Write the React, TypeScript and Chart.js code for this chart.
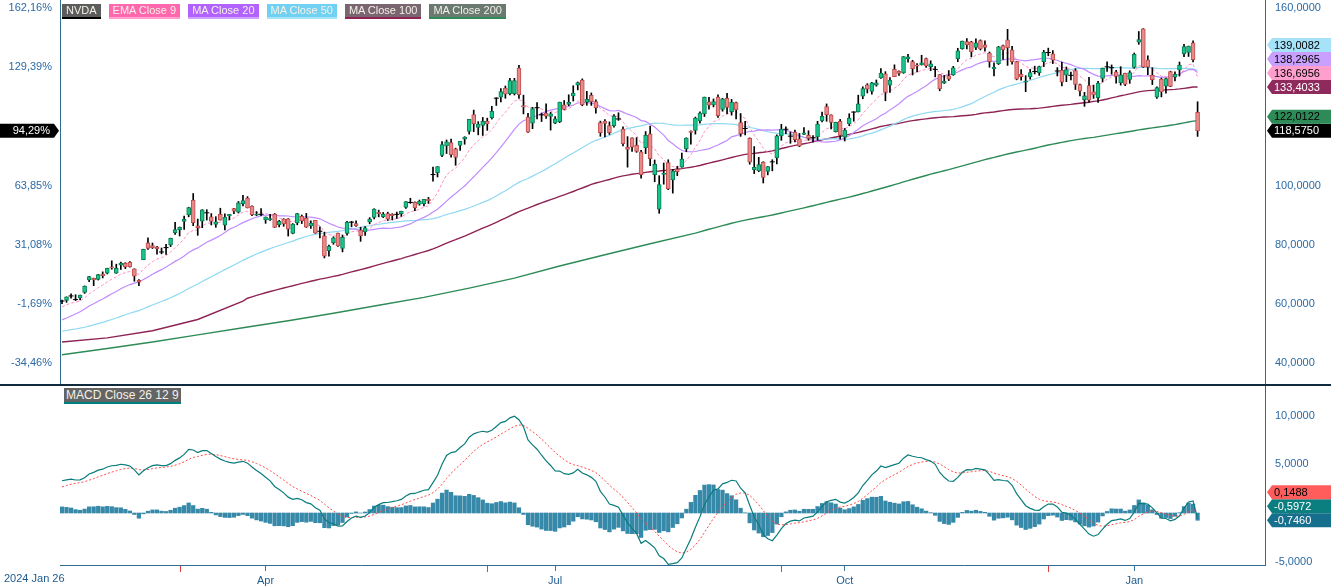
import React, { useEffect, useRef } from "react";
import { Chart, registerables } from "chart.js";

Chart.register(...registerables);

// ---------- data ----------
const startLabel = "2024 Jan 26";
const monthTickIdx = [45, 109, 173, 237];
const monthTickLabels = ["Apr", "Jul", "Oct", "Jan"];
const dividendIdx = [26, 94, 159, 218];
const priceTicks = [40, 60, 80, 100, 120, 140, 160];
const pctTicks = [40, 60, 80, 100, 140, 160];
const macdTicks = [-5, 0, 5, 10];

// last values printed in the right-hand tags
const mainTagNames = ["MA Close 50", "MA Close 20", "EMA Close 9", "MA Close 100", "MA Close 200", "NVDA"];
const mainTagValues = [139.0082, 138.2965, 136.6956, 133.4033, 122.0122, 118.575];
const macdTagNames = ["Signal", "MACD", "Histogram"];
const macdTagValues = [0.1488, -0.5972, -0.746];

// closes before the first visible candle (Nov 1 2023 - Jan 25 2024), used for the indicators
const warmupCloses = [
  42.33, 43.51, 45.01, 45.75, 45.96, 46.57, 46.95, 48.34, 48.62, 49.66,
  48.89, 49.48, 49.3, 50.41, 49.94, 48.72, 47.78, 48.24, 47.82, 48.14,
  46.77,
  46.77, 45.51, 46.57, 45.5, 46.6, 47.51, 46.63, 47.66, 48.09, 48.35,
  48.89, 50.08, 49.6, 48.11, 48.99, 48.83, 49.28, 49.42, 49.52, 49.52,
  48.17, 47.57, 48.0, 49.1, 52.25, 53.14, 54.35, 54.82, 54.71, 56.38,
  56.05, 57.11, 59.49, 59.65, 59.87, 61.36, 61.62,
];

const opens = [
  60.97, 61.22, 62.9, 61.4, 62.09, 63.97, 68.2, 68.73, 68.31, 70.15,
  70.5, 72.6, 70.5, 73.2, 73.8, 74.1, 71.9, 68.01, 75.02, 80.76,
  79.77, 79.36, 77.68, 79.01, 80.0, 84.18, 85.2, 88.0, 90.15, 95.14,
  86.47, 88.02, 91.02, 89.55, 86.94, 90.36, 86.7, 89.8, 92.31, 91.12,
  93.92, 95.84, 93.12, 90.03, 90.23, 88.44, 88.48, 90.43, 86.89, 88.74,
  88.82, 83.93, 87.45, 89.64, 89.07, 86.45, 88.3, 84.9, 83.1, 78.1,
  80.75, 83.98, 78.84, 83.87, 87.52, 87.21, 85.0, 84.45, 87.78, 89.35,
  91.03, 89.54, 90.62, 90.43, 90.4, 90.6, 92.69, 94.38, 94.4, 93.75,
  93.99, 95.48, 103.91, 104.45, 110.24, 113.51, 114.65, 112.52, 113.62, 115.72,
  118.37, 124.05, 119.77, 120.37, 121.77, 123.06, 129.39, 129.96, 132.99, 131.14,
  131.14, 139.8, 127.12, 123.24, 121.2, 126.13, 124.1, 124.58, 123.47, 121.13, 121.66,
  127.38, 127.49, 130.35, 134.03, 135.75, 128.26, 130.56, 128.44, 121.35, 121.85,
  120.35, 120.35, 122.78, 119.17, 113.04, 116.19, 113.69, 111.52, 112.9, 117.53,
  103.76, 92.06, 103.84, 107.81, 102.0, 105.64, 106.32, 112.44, 118.53, 118.76,
  121.94, 124.28, 128.4, 127.32, 130.02, 125.86, 129.57, 125.05, 128.12, 121.36,
  119.53, 116.01, 105.41, 104.99, 108.04, 104.88, 107.81, 109.39, 116.84, 119.08,
  116.79, 118.17, 115.89, 117.35, 117.06, 116.55, 116.52, 122.02, 126.8, 123.97,
  118.31, 121.77, 116.44, 120.92, 124.94, 124.99, 130.26, 134.11, 131.91, 134.01,
  136.47, 137.87, 133.98, 139.34, 138.67, 138.13, 142.91, 142.03, 140.82, 140.93,
  143.0, 140.29, 139.54, 137.6, 134.7, 137.21, 137.45, 142.96, 146.39, 148.77,
  148.68, 146.78, 149.07, 147.64, 144.87, 139.5, 141.32, 147.41, 149.35, 145.93,
  141.99, 137.7, 135.01, 136.78, 138.83, 138.26, 142.0, 145.11, 144.6, 138.97,
  139.01, 137.36, 137.08, 138.94, 134.18, 129.09, 133.86, 131.76, 129.81, 136.28,
  140.0, 139.7, 138.55, 134.83, 138.03, 136.0, 140.01, 148.59, 153.03, 142.58,
  137.45, 129.99, 136.05, 133.65, 138.64, 136.69, 139.16, 144.66, 145.05, 148.37,
  124.8,
];

const highs = [
  61.4, 62.45, 63.49, 63.18, 63.1, 66.16, 69.38, 68.8, 70.05, 70.9,
  72.15, 74.63, 73.5, 74.2, 74.0, 74.37, 71.95, 68.29, 78.57, 82.38,
  80.65, 79.5, 78.98, 80.19, 82.3, 87.68, 86.07, 89.74, 92.77, 97.4,
  88.75, 91.95, 91.93, 90.6, 89.56, 92.42, 90.56, 90.36, 92.37, 94.7,
  96.76, 96.34, 93.25, 91.29, 92.26, 89.48, 90.39, 90.63, 88.3, 88.88,
  88.91, 87.23, 90.7, 90.13, 90.67, 88.15, 88.3, 86.13, 84.3, 80.0,
  82.76, 84.0, 83.37, 88.0, 88.0, 88.13, 86.0, 86.19, 89.24, 92.25,
  91.78, 91.0, 91.09, 90.58, 91.1, 91.42, 94.7, 95.79, 94.6, 95.18,
  95.45, 96.07, 106.32, 106.48, 114.94, 115.49, 115.82, 112.72, 115.0, 116.6,
  122.45, 125.59, 121.69, 123.1, 122.87, 126.88, 129.8, 132.84, 133.73, 136.33,
  136.33, 140.76, 130.63, 124.46, 126.5, 128.12, 124.6, 127.71, 124.84, 123.41, 128.28,
  128.85, 130.77, 133.82, 135.1, 136.15, 131.92, 131.39, 129.04, 121.85, 122.4,
  121.6, 124.07, 124.69, 119.95, 116.63, 116.2, 116.28, 111.99, 118.34, 120.16,
  108.72, 103.41, 107.71, 108.8, 105.5, 106.6, 111.07, 116.23, 118.61, 123.24,
  125.0, 130.0, 129.88, 129.35, 130.75, 129.6, 131.26, 129.2, 128.33, 124.43,
  121.75, 116.21, 113.27, 109.65, 108.15, 106.55, 108.82, 117.19, 120.79, 119.96,
  118.18, 118.8, 117.7, 119.66, 118.62, 116.99, 121.8, 124.94, 127.67, 124.03,
  121.5, 122.44, 119.38, 124.36, 125.04, 130.64, 133.48, 134.52, 135.0, 135.78,
  139.6, 138.57, 136.62, 140.89, 138.9, 143.71, 144.42, 142.43, 141.35, 144.13,
  143.14, 142.26, 140.33, 137.61, 137.31, 138.96, 140.37, 146.49, 148.93, 149.77,
  148.85, 149.65, 149.33, 149.0, 145.24, 141.55, 147.13, 147.56, 152.89, 147.16,
  142.05, 139.3, 137.22, 139.35, 140.45, 140.45, 145.79, 146.54, 145.7, 139.95,
  141.82, 140.17, 138.44, 139.6, 134.4, 131.59, 136.7, 134.03, 135.28, 139.79,
  141.9, 140.85, 139.02, 140.27, 138.07, 138.88, 144.9, 152.16, 153.13, 143.95,
  139.92, 133.49, 136.38, 136.45, 138.75, 138.5, 141.83, 147.79, 147.23, 148.97,
  128.4,
];

const lows = [
  60.12, 60.6, 62.01, 61.2, 61.38, 63.62, 67.6, 66.25, 68.15, 68.85,
  70.2, 71.8, 70.4, 71.7, 72.0, 72.5, 67.73, 66.25, 75.02, 78.48,
  78.8, 76.92, 77.0, 76.84, 79.44, 83.6, 83.04, 85.24, 89.51, 86.51,
  83.26, 85.83, 88.4, 86.77, 85.96, 88.43, 85.05, 88.48, 90.56, 90.8,
  93.18, 92.51, 89.92, 89.9, 89.94, 87.32, 88.28, 85.9, 86.06, 86.31,
  83.01, 83.77, 86.81, 87.23, 85.93, 85.6, 83.95, 82.42, 75.61, 76.25,
  80.22, 79.5, 77.66, 83.34, 86.14, 86.26, 81.23, 83.26, 87.15, 88.8,
  89.49, 89.25, 88.28, 88.44, 88.93, 89.65, 92.38, 94.07, 91.6, 93.44,
  93.21, 94.04, 101.53, 103.0, 109.88, 110.9, 109.66, 106.94, 112.0, 114.04,
  117.47, 118.32, 117.22, 117.01, 118.74, 122.57, 127.16, 128.32, 129.58, 130.69,
  130.69, 129.52, 124.3, 118.04, 119.32, 122.6, 121.73, 122.75, 118.83, 121.03, 121.36,
  125.68, 127.04, 128.65, 132.42, 127.05, 127.22, 127.18, 124.58, 116.72, 116.56,
  117.37, 119.86, 122.1, 113.44, 106.3, 111.58, 111.3, 102.54, 110.88, 106.81,
  101.37, 90.69, 100.55, 98.69, 97.52, 103.43, 106.26, 111.58, 114.06, 117.47,
  121.18, 123.42, 125.89, 126.66, 123.1, 125.22, 124.37, 123.88, 122.64, 116.71,
  117.22, 107.29, 104.12, 104.76, 100.95, 103.69, 105.06, 107.42, 115.38, 117.6,
  114.36, 114.83, 113.22, 117.25, 115.39, 114.86, 115.38, 121.61, 121.8, 119.26,
  118.15, 115.79, 115.14, 120.34, 121.83, 124.95, 129.42, 131.38, 131.0, 133.66,
  136.3, 128.74, 131.58, 136.87, 137.28, 138.0, 141.78, 137.46, 138.46, 140.8,
  140.05, 138.9, 136.81, 132.11, 134.57, 135.57, 137.33, 141.96, 146.17, 146.26,
  143.57, 146.01, 145.9, 145.55, 140.08, 137.15, 140.99, 142.73, 140.7, 141.1,
  135.82, 135.67, 131.8, 136.05, 137.82, 137.32, 140.29, 143.95, 141.31, 137.13,
  133.79, 135.21, 135.8, 132.54, 130.42, 126.86, 128.28, 129.55, 128.22, 135.12,
  138.65, 137.73, 134.71, 134.02, 133.83, 134.63, 139.73, 147.82, 140.01, 137.56,
  134.22, 129.51, 130.05, 131.29, 133.49, 135.46, 137.09, 143.67, 143.72, 141.88,
  116.7,
];

const closes = [
  61.031, 62.43, 62.77, 61.53, 63.03, 66.12, 69.33, 68.22, 70.03, 69.62,
  72.13, 72.23, 72.12, 73.9, 72.61, 72.6, 69.42, 67.45, 78.5, 78.81,
  79.07, 78.7, 77.63, 79.11, 82.28, 85.22, 85.94, 88.7, 92.67, 87.52,
  85.76, 91.9, 90.86, 87.92, 87.84, 88.42, 89.39, 90.36, 91.45, 94.26,
  95.0, 92.56, 90.25, 90.36, 90.36, 89.45, 88.96, 85.91, 88.0, 87.1,
  85.32, 87.04, 90.62, 88.1, 86.04, 87.42, 84.0, 84.63, 76.2, 79.52,
  82.41, 79.68, 82.62, 87.74, 87.71, 86.4, 83.04, 85.82, 88.79, 92.14,
  90.55, 90.41, 88.75, 89.8, 90.34, 91.36, 94.64, 94.36, 92.48, 94.78,
  95.39, 94.95, 103.8, 106.47, 113.9, 114.83, 110.5, 109.63, 115.0, 116.44,
  122.44, 121.0, 120.88, 121.79, 120.91, 125.2, 129.61, 131.88, 130.98, 135.58,
  135.58, 130.78, 126.57, 118.11, 126.09, 126.4, 123.99, 123.54, 124.3, 122.67, 128.28,
  125.83, 128.2, 131.38, 134.91, 127.4, 129.24, 128.44, 126.36, 117.99, 121.09,
  117.93, 123.54, 122.59, 114.25, 112.28, 113.06, 111.59, 103.73, 117.02, 109.21,
  107.27, 100.45, 104.25, 98.91, 104.97, 104.75, 109.02, 116.14, 118.08, 122.86,
  124.58, 130.0, 127.25, 128.5, 123.74, 129.37, 126.46, 128.3, 125.61, 117.59,
  119.37, 108.0, 106.21, 107.21, 102.83, 106.47, 108.1, 116.91, 119.14, 119.1,
  116.78, 115.59, 113.37, 117.87, 116.0, 116.26, 120.87, 123.51, 124.04, 121.4,
  121.44, 117.0, 118.85, 122.85, 124.92, 127.72, 132.89, 132.65, 134.81, 134.8,
  138.07, 131.6, 135.72, 136.93, 138.0, 143.71, 143.59, 139.56, 140.41, 141.54,
  140.52, 141.25, 139.34, 132.76, 135.4, 136.05, 139.91, 145.61, 148.88, 147.63,
  145.26, 148.29, 146.27, 146.76, 141.98, 140.15, 147.01, 145.89, 146.67, 141.95,
  136.02, 136.92, 135.34, 138.25, 138.63, 140.26, 145.14, 145.06, 142.44, 138.81,
  135.07, 139.31, 137.34, 134.25, 132.0, 130.39, 128.91, 130.68, 134.7, 139.67,
  140.22, 139.93, 137.01, 137.49, 134.29, 138.31, 144.47, 149.43, 140.14, 140.11,
  135.91, 133.23, 131.76, 136.24, 133.57, 137.71, 140.83, 147.07, 147.22, 142.62,
  118.575,
];

// long moving averages before enough history exists
const ma100EarlyIdx = [0, 10, 20, 30, 40];
const ma100EarlyVals = [47.2, 48.6, 51.0, 54.8, 61.0];
const ma200EarlyIdx = [0, 10, 20, 30, 40, 50, 60, 70, 80, 90, 100, 110, 120, 130, 140];
const ma200EarlyVals = [42.9, 45.0, 47.2, 49.6, 52.0, 54.4, 56.9, 59.6, 62.3, 65.4, 68.8, 72.9, 76.7, 80.4, 84.0];

// ---------- styling constants ----------
const FONT = '"Liberation Sans", Arial, sans-serif';
const AXIS_TEXT = "#2c6aa3";
const AXIS_LINE = "#2f6b8c";
const GREEN_FILL = "#17c48c";
const GREEN_EDGE = "#0b7f52";
const RED_FILL = "#e68b8b";
const RED_EDGE = "#c24a4a";
const DOJI_EPS = 0.3;

const X_MIN = -0.442;
const X_MAX = 265.9;
const Y_MIN = 33.0;
const Y_MAX = 162.806;
const M_MIN = -5.343;
const M_MAX = 13.05;

const fmt4 = (v: number) => v.toFixed(4).replace(".", ",");
const fmtPct = (v: number) => ((v / closes[0] - 1) * 100).toFixed(2).replace(".", ",") + "%";

const allCloses = [...warmupCloses, ...closes];
const W = warmupCloses.length;
const N = closes.length;

function smaAt(n: number, i: number): number | null {
  const end = W + i;
  const start = end - n + 1;
  if (start < 0) return null;
  let s = 0;
  for (let k = start; k <= end; k++) s += allCloses[k];
  return s / n;
}

function emaSeries(src: number[], n: number): number[] {
  const k = 2 / (n + 1);
  const out: number[] = [];
  let e = src[0];
  for (const v of src) {
    e = v * k + e * (1 - k);
    out.push(e);
  }
  return out;
}

function drawTags(chart: any, scaleId: string, tags: { v: number; text: string; bg: string; fg: string }[]) {
  const { ctx, chartArea } = chart;
  const sc = chart.scales[scaleId];
  const x0 = chartArea.right;
  const Wd = chart.width;
  const items = tags
    .map((t) => ({ ...t, py: sc.getPixelForValue(t.v) }))
    .sort((a, b) => b.py - a.py);
  let prev = Infinity;
  ctx.save();
  ctx.font = "11px " + FONT;
  ctx.textBaseline = "middle";
  ctx.textAlign = "left";
  for (const t of items) {
    const y = Math.min(t.py, prev - 14);
    prev = y;
    ctx.beginPath();
    ctx.moveTo(x0 + 2, y);
    ctx.lineTo(x0 + 7, y - 7);
    ctx.lineTo(Wd, y - 7);
    ctx.lineTo(Wd, y + 7);
    ctx.lineTo(x0 + 7, y + 7);
    ctx.closePath();
    ctx.fillStyle = t.bg;
    ctx.fill();
    ctx.fillStyle = t.fg;
    ctx.fillText(t.text, x0 + 9, y + 0.5);
  }
  ctx.restore();
}

const legendItems = [
  { t: "NVDA", bg: "#5c5c5c", bb: "#000000" },
  { t: "EMA Close 9", bg: "#ff68ad", bb: "#ffa0d0" },
  { t: "MA Close 20", bg: "#b263ff", bb: "#cfa3ff" },
  { t: "MA Close 50", bg: "#70d1f2", bb: "#a6e4f8" },
  { t: "MA Close 100", bg: "#7a6671", bb: "#8e2455" },
  { t: "MA Close 200", bg: "#6a7a71", bb: "#2e8b57" },
];

const mainTagStyles = [
  { bg: "#a6e3f8", fg: "#000" },
  { bg: "#c9a0ff", fg: "#000" },
  { bg: "#ff9fce", fg: "#000" },
  { bg: "#8e2a5c", fg: "#fff" },
  { bg: "#2e8b57", fg: "#000" },
  { bg: "#000000", fg: "#fff" },
];
const macdTagStyles = [
  { bg: "#ff5c5c", fg: "#000" },
  { bg: "#0b7f7f", fg: "#fff" },
  { bg: "#166f8c", fg: "#fff" },
];

export default function App() {
  const mainRef = useRef<HTMLCanvasElement>(null);
  const macdRef = useRef<HTMLCanvasElement>(null);

  useEffect(() => {
    document.body.style.margin = "0";
    Chart.defaults.font.family = FONT;
    Chart.defaults.font.size = 11;

    const idx = closes.map((_, i) => i);
    const isDoji = (i: number) => Math.abs(closes[i] - opens[i]) < DOJI_EPS;

    const wickData = idx.map((i) => ({ x: i, y: [lows[i], highs[i]] }));
    const bodyIdx = idx.filter((i) => !isDoji(i));
    const bodyData = bodyIdx.map((i) => ({ x: i, y: [opens[i], closes[i]] }));
    const bodyFill = bodyIdx.map((i) => (closes[i] > opens[i] ? GREEN_FILL : RED_FILL));
    const bodyEdge = bodyIdx.map((i) => (closes[i] > opens[i] ? GREEN_EDGE : RED_EDGE));
    const dojiData = idx.filter(isDoji).map((i) => ({ x: i, y: closes[i] }));

    const ema9All = emaSeries(allCloses, 9);
    const ema9 = idx.map((i) => ({ x: i, y: ema9All[W + i] }));
    const ma20 = idx.map((i) => ({ x: i, y: smaAt(20, i) as number }));
    const ma50 = idx.map((i) => ({ x: i, y: smaAt(50, i) as number }));

    const longMa = (n: number, eIdx: number[], eVals: number[]) => {
      const pts: { x: number; y: number }[] = eIdx.map((x, k) => ({ x, y: eVals[k] }));
      for (const i of idx) {
        const v = smaAt(n, i);
        if (v !== null && i > eIdx[eIdx.length - 1]) pts.push({ x: i, y: v });
      }
      return pts;
    };
    const ma100 = longMa(100, ma100EarlyIdx, ma100EarlyVals);
    const ma200 = longMa(200, ma200EarlyIdx, ma200EarlyVals);

    const e12 = emaSeries(allCloses, 12);
    const e26 = emaSeries(allCloses, 26);
    const macdAll = e12.map((v, k) => v - e26[k]);
    const sigAll = emaSeries(macdAll, 9);
    const macd = idx.map((i) => ({ x: i, y: macdAll[W + i] }));
    const signal = idx.map((i) => ({ x: i, y: sigAll[W + i] }));
    const hist = idx.map((i) => ({ x: i, y: macdAll[W + i] - sigAll[W + i] }));

    const lineDs = (label: string, data: any[], color: string, width: number, dash: number[], order: number) => ({
      type: "line",
      label,
      data,
      borderColor: color,
      borderWidth: width,
      borderDash: dash,
      pointRadius: 0,
      tension: 0,
      fill: false,
      order,
    });

    const mainTags = mainTagValues.map((v, k) => ({ v, text: fmt4(v), ...mainTagStyles[k], name: mainTagNames[k] }));
    const lastPrice = mainTagValues[mainTagValues.length - 1];

    const mainPlugin = {
      id: "mainTags",
      afterDraw(chart: any) {
        drawTags(chart, "y", mainTags);
        const { ctx, chartArea } = chart;
        const py = chart.scales.y.getPixelForValue(lastPrice);
        const xr = chartArea.left;
        ctx.save();
        ctx.beginPath();
        ctx.moveTo(0, py - 7);
        ctx.lineTo(xr - 6, py - 7);
        ctx.lineTo(xr - 1, py);
        ctx.lineTo(xr - 6, py + 7);
        ctx.lineTo(0, py + 7);
        ctx.closePath();
        ctx.fillStyle = "#000";
        ctx.fill();
        ctx.fillStyle = "#fff";
        ctx.font = "11px " + FONT;
        ctx.textAlign = "right";
        ctx.textBaseline = "middle";
        ctx.fillText(fmtPct(lastPrice), xr - 10, py + 0.5);
        ctx.restore();
      },
    };

    const main = new Chart(mainRef.current as HTMLCanvasElement, {
      type: "bar",
      data: {
        datasets: [
          {
            type: "bar",
            label: "wick",
            data: wickData,
            backgroundColor: "#000",
            borderWidth: 0,
            barThickness: 1,
            grouped: false,
            order: 3,
          },
          {
            type: "bar",
            label: "body",
            data: bodyData,
            backgroundColor: bodyFill,
            borderColor: bodyEdge,
            borderWidth: 1,
            borderSkipped: false,
            barThickness: 4,
            grouped: false,
            order: 2,
          },
          {
            type: "scatter",
            label: "doji",
            data: dojiData,
            pointStyle: "line",
            pointRadius: 2.5,
            pointBorderWidth: 1,
            pointBorderColor: "#000",
            borderColor: "#000",
            showLine: false,
            order: 1,
          },
          lineDs("MA Close 200", ma200, "#2e8b57", 1.4, [], 14),
          lineDs("MA Close 100", ma100, "#8e2455", 1.4, [], 13),
          lineDs("MA Close 50", ma50, "#8fd9f2", 1.2, [], 12),
          lineDs("MA Close 20", ma20, "#c08cff", 1.2, [], 11),
          lineDs("EMA Close 9", ema9, "#ff8fc6", 1, [3, 2], 10),
        ] as any,
      },
      options: {
        responsive: false,
        animation: false,
        devicePixelRatio: 1,
        events: [],
        layout: { padding: 0, autoPadding: false } as any,
        plugins: { legend: { display: false }, tooltip: { enabled: false } },
        scales: {
          x: { type: "linear", min: X_MIN, max: X_MAX, offset: false, display: false, grid: { offset: false } },
          y: {
            type: "linear",
            position: "right",
            min: Y_MIN,
            max: Y_MAX,
            afterBuildTicks: (s: any) => {
              s.ticks = priceTicks.map((v) => ({ value: v }));
            },
            ticks: { callback: (v: any) => fmt4(Number(v)), color: AXIS_TEXT, padding: 10, font: { size: 11 } },
            grid: { display: false, drawTicks: false },
            border: { display: true, color: AXIS_LINE, width: 1 },
            afterFit: (s: any) => {
              s.width = 66;
              s.paddingTop = 0;
              s.paddingBottom = 0;
            },
          },
          yl: {
            type: "linear",
            position: "left",
            min: Y_MIN,
            max: Y_MAX,
            afterBuildTicks: (s: any) => {
              s.ticks = pctTicks.map((v) => ({ value: v }));
            },
            ticks: { callback: (v: any) => fmtPct(Number(v)), color: AXIS_TEXT, padding: 8, font: { size: 11 } },
            grid: { display: false, drawTicks: false },
            border: { display: true, color: AXIS_LINE, width: 1 },
            afterFit: (s: any) => {
              s.width = 60;
              s.paddingTop = 0;
              s.paddingBottom = 0;
            },
          },
        } as any,
      },
      plugins: [mainPlugin],
    } as any);

    const macdTags = macdTagValues.map((v, k) => ({ v, text: fmt4(v), ...macdTagStyles[k], name: macdTagNames[k] }));

    const macdPlugin = {
      id: "macdExtras",
      afterDraw(chart: any) {
        drawTags(chart, "y", macdTags);
        const { ctx, chartArea } = chart;
        const xs = chart.scales.x;
        ctx.save();
        ctx.strokeStyle = "#e23b3b";
        ctx.lineWidth = 1;
        for (const d of dividendIdx) {
          const px = Math.round(xs.getPixelForValue(d)) + 0.5;
          ctx.beginPath();
          ctx.moveTo(px, chartArea.bottom + 1);
          ctx.lineTo(px, chartArea.bottom + 7);
          ctx.stroke();
        }
        ctx.fillStyle = "#1d5a8e";
        ctx.font = "11px " + FONT;
        ctx.textAlign = "left";
        ctx.textBaseline = "middle";
        ctx.fillText(startLabel, 4, chartArea.bottom + 14);
        ctx.restore();
      },
    };

    const macdChart = new Chart(macdRef.current as HTMLCanvasElement, {
      type: "bar",
      data: {
        datasets: [
          {
            type: "bar",
            label: "hist",
            data: hist,
            backgroundColor: "#3689a9",
            borderWidth: 0,
            barThickness: 3.6,
            grouped: false,
            order: 3,
          },
          lineDs("signal", signal, "#ff4a4a", 1, [2, 2], 2),
          lineDs("MACD", macd, "#0b7c7c", 1.2, [], 1),
        ] as any,
      },
      options: {
        responsive: false,
        animation: false,
        devicePixelRatio: 1,
        events: [],
        layout: { padding: { left: 60, top: 0, right: 0, bottom: 0 }, autoPadding: false } as any,
        plugins: { legend: { display: false }, tooltip: { enabled: false } },
        scales: {
          x: {
            type: "linear",
            position: "bottom",
            min: X_MIN,
            max: X_MAX,
            offset: false,
            afterBuildTicks: (s: any) => {
              s.ticks = monthTickIdx.map((v) => ({ value: v }));
            },
            ticks: {
              callback: (_v: any, i: number) => monthTickLabels[i],
              color: "#1d5a8e",
              padding: 3,
              autoSkip: false,
              maxRotation: 0,
              font: { size: 11 },
            },
            grid: { display: true, drawOnChartArea: false, drawTicks: true, tickLength: 6, color: "#3a78a8", offset: false },
            border: { display: true, color: AXIS_LINE, width: 1 },
            afterFit: (s: any) => {
              s.height = 22;
              s.paddingLeft = 0;
              s.paddingRight = 0;
            },
          },
          y: {
            type: "linear",
            position: "right",
            min: M_MIN,
            max: M_MAX,
            afterBuildTicks: (s: any) => {
              s.ticks = macdTicks.map((v) => ({ value: v }));
            },
            ticks: { callback: (v: any) => fmt4(Number(v)), color: AXIS_TEXT, padding: 10, font: { size: 11 } },
            grid: { display: false, drawTicks: false },
            border: { display: true, color: AXIS_LINE, width: 1 },
            afterFit: (s: any) => {
              s.width = 66;
              s.paddingTop = 0;
              s.paddingBottom = 0;
            },
          },
        } as any,
      },
      plugins: [macdPlugin],
    } as any);

    return () => {
      main.destroy();
      macdChart.destroy();
    };
  }, []);

  return (
    <div style={{ position: "absolute", left: 0, top: 0, width: 1331, height: 587, background: "#fff", overflow: "hidden" }}>
      <canvas ref={mainRef} width={1331} height={384} style={{ position: "absolute", left: 0, top: 0 }} />
      <div style={{ position: "absolute", left: 0, top: 384, width: 1331, height: 2, background: "#0f2b3d" }} />
      <canvas ref={macdRef} width={1331} height={201} style={{ position: "absolute", left: 0, top: 386 }} />
      <div style={{ position: "absolute", left: 62, top: 4, display: "flex", gap: 8 }}>
        {legendItems.map((it) => (
          <div
            key={it.t}
            style={{
              background: it.bg,
              borderBottom: "2px solid " + it.bb,
              color: "#f4f1e8",
              font: "11px " + FONT,
              lineHeight: "13px",
              height: 13,
              padding: "0 4px",
              whiteSpace: "nowrap",
            }}
          >
            {it.t}
          </div>
        ))}
      </div>
      <div
        style={{
          position: "absolute",
          left: 64,
          top: 388,
          background: "#646464",
          borderBottom: "2px solid #00807c",
          color: "#f4f1e8",
          font: "12px " + FONT,
          lineHeight: "14px",
          height: 14,
          padding: "0 2px",
          whiteSpace: "nowrap",
        }}
      >
        MACD Close 26 12 9
      </div>
    </div>
  );
}
